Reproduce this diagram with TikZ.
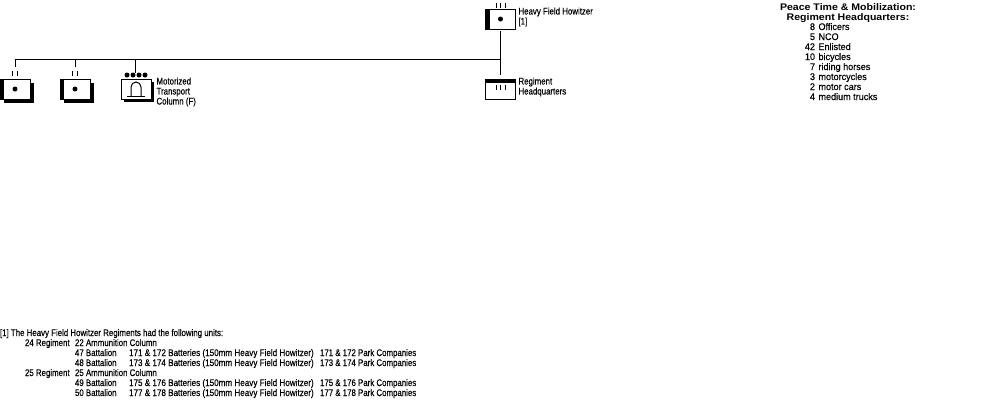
\documentclass[tikz,border=0pt]{standalone}
\usepackage{fontspec}
\setmainfont[FakeStretch=0.82,FakeBold=0.3]{Liberation Sans}
\newfontfamily\headfont[FakeStretch=1.1]{Liberation Sans Bold}
\usetikzlibrary{positioning}
\begin{document}
\begin{tikzpicture}[x=1pt,y=-1pt,
  every node/.style={font=\fontsize{9.6}{10}\selectfont,inner sep=0pt,outer sep=0pt},
  unitbox/.style={draw,line width=1pt,fill=white,minimum width=30pt,minimum height=20pt},
  shadowband/.style={fill=black},
  lbl/.style={anchor=west,align=left},
  tbl/.style={anchor=base west},
  wide/.style={tbl,xscale=1.15},
  batt/.style={tbl,xscale=1.03},
  num/.style={anchor=base east,xscale=1.15},
  headline/.style={font=\headfont\fontsize{9.6}{10}\selectfont,anchor=base},
  link/.style={line width=1pt},
  unitdot/.style={circle,fill=black,minimum size=5pt}
]
\useasboundingbox (0,0) rectangle (1000,400);

% Regiment
\node[unitbox] (hfh) at (500.5,19) {};
\fill[shadowband] (hfh.north west) rectangle ([xshift=4pt]hfh.south west);
\node[unitdot] (hfhdot) at (hfh.center) {};
\foreach \tx in {-4.5,0,4.5}
  \draw[link] ([xshift=\tx pt,yshift=1pt]hfh.north) -- ++(0,-5);
\node[lbl] (hfhlbl) at (518.5,17) {Heavy Field Howitzer\\{}[1]};

% Headquarters
\node[unitbox] (hq) at (500.5,89.5) {};
\fill[shadowband] (hq.north west) rectangle ([yshift=-3.5pt]hq.north east);
\foreach \tx in {-4.5,0,4.5}
  \draw[link] ([xshift=\tx pt,yshift=-5pt]hq.north) -- ++(0,5);
\node[lbl] (hqlbl) at (518.5,87) {Regiment\\Headquarters};

% Battalions and column
\node[unitbox] (bn1) at (15,89) {};
\node[unitbox] (bn2) at (75,89) {};
\node[unitbox] (col) at (136,89) {};
\coordinate (busl) at (15.5,59);
\coordinate (busr) at (500.5,59);

\draw[link] ([yshift=-2pt]hfh.south) -- ([yshift=5pt]hq.north);
\draw[link] (busl) -- (busr);
\draw[link] (busl) -- ++(0,8);
\draw[link] (75.5,59) -- ++(0,8);
\draw[link] (135.5,59) -- ++(0,14);

\foreach \bn in {bn1,bn2}{
  \fill[shadowband] ([xshift=3.5pt,yshift=-3.5pt]\bn.north west) rectangle ([xshift=3.5pt,yshift=-3.5pt]\bn.south east);
  \node[unitbox] at (\bn) {};
  \fill[shadowband] (\bn.north west) rectangle ([xshift=4pt,yshift=-1pt]\bn.south west);
  \node[unitdot] at (\bn) {};
  \foreach \tx in {-2.5,2.5}
    \draw[link] ([xshift=\tx pt,yshift=3pt]\bn.north) -- ++(0,-5);
}

% Transport column
\fill[shadowband] ([xshift=3pt,yshift=-3pt]col.north west) rectangle ([xshift=3pt,yshift=-3pt]col.south east);
\node[unitbox] at (col) {};
\draw[link] (127,96) -- (145,96);
\draw[link] (131,96) -- (131,87) arc[start angle=180,end angle=360,radius=5] -- (141,96);
\foreach \tx in {-9,-3,3,9}
  \node[unitdot] at ([xshift=\tx pt,yshift=4pt]col.north) {};
\node[lbl] (collbl) at (156.5,92) {Motorized\\Transport\\Column (F)};

% Strength table
\node[headline] (head1) at (848,10) {Peace Time \& Mobilization:};
\node[headline] (head2) at (848,20) {Regiment Headquarters:};
\foreach \qty/\what [count=\row from 0] in {8/Officers,5/NCO,42/Enlisted,10/bicycles,7/riding horses,3/motorcycles,2/motor cars,4/medium trucks}{
  \node[num] (qty\row) at (815,30+10*\row) {\qty};
  \node[wide] (what\row) at (818.5,30+10*\row) {\what};
}

% Footnote
\node[tbl] (note) at (0,336) {[1] The Heavy Field Howitzer Regiments had the following units:};
\node[tbl] (rgt24) at (25,346) {24 Regiment};
\node[tbl] (amm22) at (75,346) {22 Ammunition Column};
\node[tbl] (bn47) at (75,356) {47 Battalion};
\node[batt] (bat171) at (129,356) {171 \& 172 Batteries (150mm Heavy Field Howitzer)};
\node[tbl] (pk171) at (320,356) {171 \& 172 Park Companies};
\node[tbl] (bn48) at (75,366) {48 Battalion};
\node[batt] (bat173) at (129,366) {173 \& 174 Batteries (150mm Heavy Field Howitzer)};
\node[tbl] (pk173) at (320,366) {173 \& 174 Park Companies};
\node[tbl] (rgt25) at (25,376) {25 Regiment};
\node[tbl] (amm25) at (75,376) {25 Ammunition Column};
\node[tbl] (bn49) at (75,386) {49 Battalion};
\node[batt] (bat175) at (129,386) {175 \& 176 Batteries (150mm Heavy Field Howitzer)};
\node[tbl] (pk175) at (320,386) {175 \& 176 Park Companies};
\node[tbl] (bn50) at (75,396) {50 Battalion};
\node[batt] (bat177) at (129,396) {177 \& 178 Batteries (150mm Heavy Field Howitzer)};
\node[tbl] (pk177) at (320,396) {177 \& 178 Park Companies};
\end{tikzpicture}
\end{document}
